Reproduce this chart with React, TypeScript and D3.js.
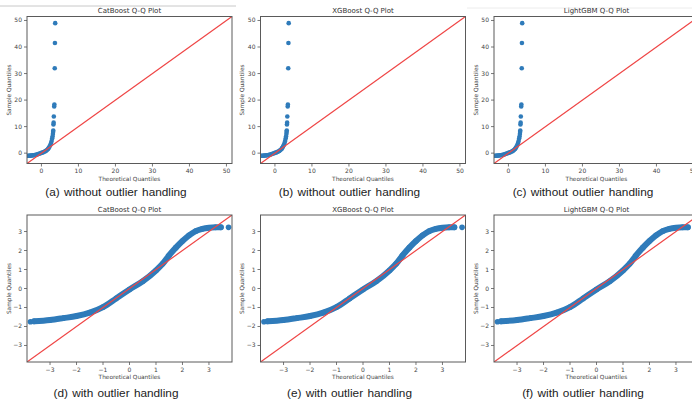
import * as d3 from 'd3';

// Q-Q points before outlier handling [theoretical, sample]
const rawTheoretical = [-3.8, -3.5, -3.2, -3.0, -2.7, -2.4, -2.1, -1.8, -1.5, -1.2, -0.9, -0.6, -0.3, 0, 0.3, 0.6, 0.9, 1.2, 1.5, 1.8, 2.0, 2.2, 2.4, 2.6, 2.75, 2.9, 3.0, 3.1, 3.15, 3.2, 3.25, 3.3, 3.35, 3.45, 3.5, 3.6, 3.65, 3.72];
const rawSample = [-1.0, -1.0, -1.0, -0.95, -0.9, -0.85, -0.8, -0.7, -0.6, -0.5, -0.35, -0.2, -0.05, 0.1, 0.25, 0.4, 0.6, 0.85, 1.2, 1.6, 2.0, 2.5, 3.1, 3.8, 4.6, 5.5, 6.3, 7.2, 8.0, 8.5, 10.8, 11.5, 13.8, 17.6, 18.3, 32.0, 41.5, 49.0];

// Q-Q points after outlier handling
const cleanTheoretical = [-3.74, -3.6, -3.0, -2.5, -2.0, -1.5, -1.0, -0.5, 0, 0.5, 1.0, 1.25, 1.5, 1.75, 2.0, 2.25, 2.5, 2.75, 3.0, 3.25, 3.45, 3.74];
const cleanSample = [-1.75, -1.73, -1.66, -1.56, -1.45, -1.27, -0.98, -0.52, -0.05, 0.38, 0.95, 1.3, 1.75, 2.15, 2.5, 2.8, 3.02, 3.14, 3.2, 3.22, 3.22, 3.22];

const models = ['CatBoost', 'XGBoost', 'LightGBM'];
const topCaptions = ['(a) without outlier handling', '(b) without outlier handling', '(c) without outlier handling'];
const bottomCaptions = ['(d) with outlier handling', '(e) with outlier handling', '(f) with outlier handling'];
const topTicks = [0, 10, 20, 30, 40, 50];
const bottomTicks = [-3, -2, -1, 0, 1, 2, 3];

const colLefts = [27, 260.5, 494];
const plotW = 205;
const plotH = 147;
const blue = '#2f7bba';
const red = '#ef4646';
const fnt = '"DejaVu Sans", sans-serif';

const fmt = (v: number) => (v < 0 ? `\u2212${-v}` : `${v}`);

type PanelProps = {
  left: number;
  top: number;
  title: string;
  caption: string;
  domain: [number, number];
  ticks: number[];
  xs: number[];
  ys: number[];
  band: boolean;
};

const Panel = ({ left, top, title, caption, domain, ticks, xs, ys, band }: PanelProps) => {
  const x = d3.scaleLinear().domain(domain).range([left, left + plotW]);
  const y = d3.scaleLinear().domain(domain).range([top + plotH, top]);
  const pts = xs.map((v, i) => [v, ys[i]] as [number, number]);
  const bottom = top + plotH;
  const line = d3
    .line<[number, number]>()
    .x(d => x(d[0]))
    .y(d => y(d[1]))
    .curve(d3.curveMonotoneX);
  const clipId = `clip-${left}-${top}`;

  return (
    <g>
      <defs>
        <clipPath id={clipId}>
          <rect x={left} y={top} width={plotW} height={plotH} />
        </clipPath>
      </defs>
      <text x={left + plotW / 2} y={top - 3.5} textAnchor="middle" fontSize={7} fill="#333" fontFamily={fnt}>
        {title}
      </text>
      <g clipPath={`url(#${clipId})`}>
        {band && (
          <path d={line(pts.slice(1, -1)) || ''} fill="none" stroke={blue} strokeWidth={6} strokeLinecap="round" />
        )}
        {pts.map((p, i) => (
          <circle key={i} cx={x(p[0])} cy={y(p[1])} r={band ? 2.8 : 2.3} fill={blue} />
        ))}
        <line x1={x(domain[0])} y1={y(domain[0])} x2={x(domain[1])} y2={y(domain[1])} stroke={red} strokeWidth={1.2} />
      </g>
      <rect x={left} y={top} width={plotW} height={plotH} fill="none" stroke="#5a5a5a" strokeWidth={1} />
      {ticks.map(t => (
        <g key={`x${t}`}>
          <line x1={x(t)} x2={x(t)} y1={bottom} y2={bottom + 3} stroke="#555" strokeWidth={0.8} />
          <text x={x(t)} y={bottom + 9.5} textAnchor="middle" fontSize={6} fill="#444" fontFamily={fnt}>
            {fmt(t)}
          </text>
        </g>
      ))}
      {ticks.map(t => (
        <g key={`y${t}`}>
          <line x1={left - 3} x2={left} y1={y(t)} y2={y(t)} stroke="#555" strokeWidth={0.8} />
          <text x={left - 5} y={y(t) + 2} textAnchor="end" fontSize={6} fill="#444" fontFamily={fnt}>
            {fmt(t)}
          </text>
        </g>
      ))}
      <text x={left + plotW / 2} y={bottom + 17} textAnchor="middle" fontSize={5.8} fill="#444" fontFamily={fnt}>
        Theoretical Quantiles
      </text>
      <text
        transform={`translate(${left - 18.5},${top + plotH / 2}) rotate(-90)`}
        textAnchor="middle"
        dy="0.35em"
        fontSize={5.8}
        fill="#444"
        fontFamily={fnt}
      >
        Sample Quantiles
      </text>
      <text
        x={left + 89}
        y={bottom + (band ? 34.5 : 32)}
        textAnchor="middle"
        fontSize={11.8}
        fill="#222"
        wordSpacing={1}
        fontFamily='"Liberation Sans", Arial, sans-serif'
      >
        {caption}
      </text>
    </g>
  );
};

export default function App() {
  return (
    <svg width={692} height={402} style={{ position: 'absolute', left: 0, top: 0, background: '#fff' }}>
      <rect width={692} height={402} fill="#fff" />
      <line x1={0} x2={236} y1={6} y2={6} stroke="#c8c8c8" strokeWidth={1} />
      <line x1={467} x2={692} y1={8} y2={8} stroke="#ececec" strokeWidth={1} />
      {models.map((m, i) => (
        <Panel
          key={`t${m}`}
          left={colLefts[i]}
          top={16.5}
          title={`${m} Q-Q Plot`}
          caption={topCaptions[i]}
          domain={[-3.9, 51.5]}
          ticks={topTicks}
          xs={rawTheoretical}
          ys={rawSample}
          band={false}
        />
      ))}
      {models.map((m, i) => (
        <Panel
          key={`b${m}`}
          left={colLefts[i]}
          top={215}
          title={`${m} Q-Q Plot`}
          caption={bottomCaptions[i]}
          domain={[-3.87, 3.87]}
          ticks={bottomTicks}
          xs={cleanTheoretical}
          ys={cleanSample}
          band={true}
        />
      ))}
    </svg>
  );
}
